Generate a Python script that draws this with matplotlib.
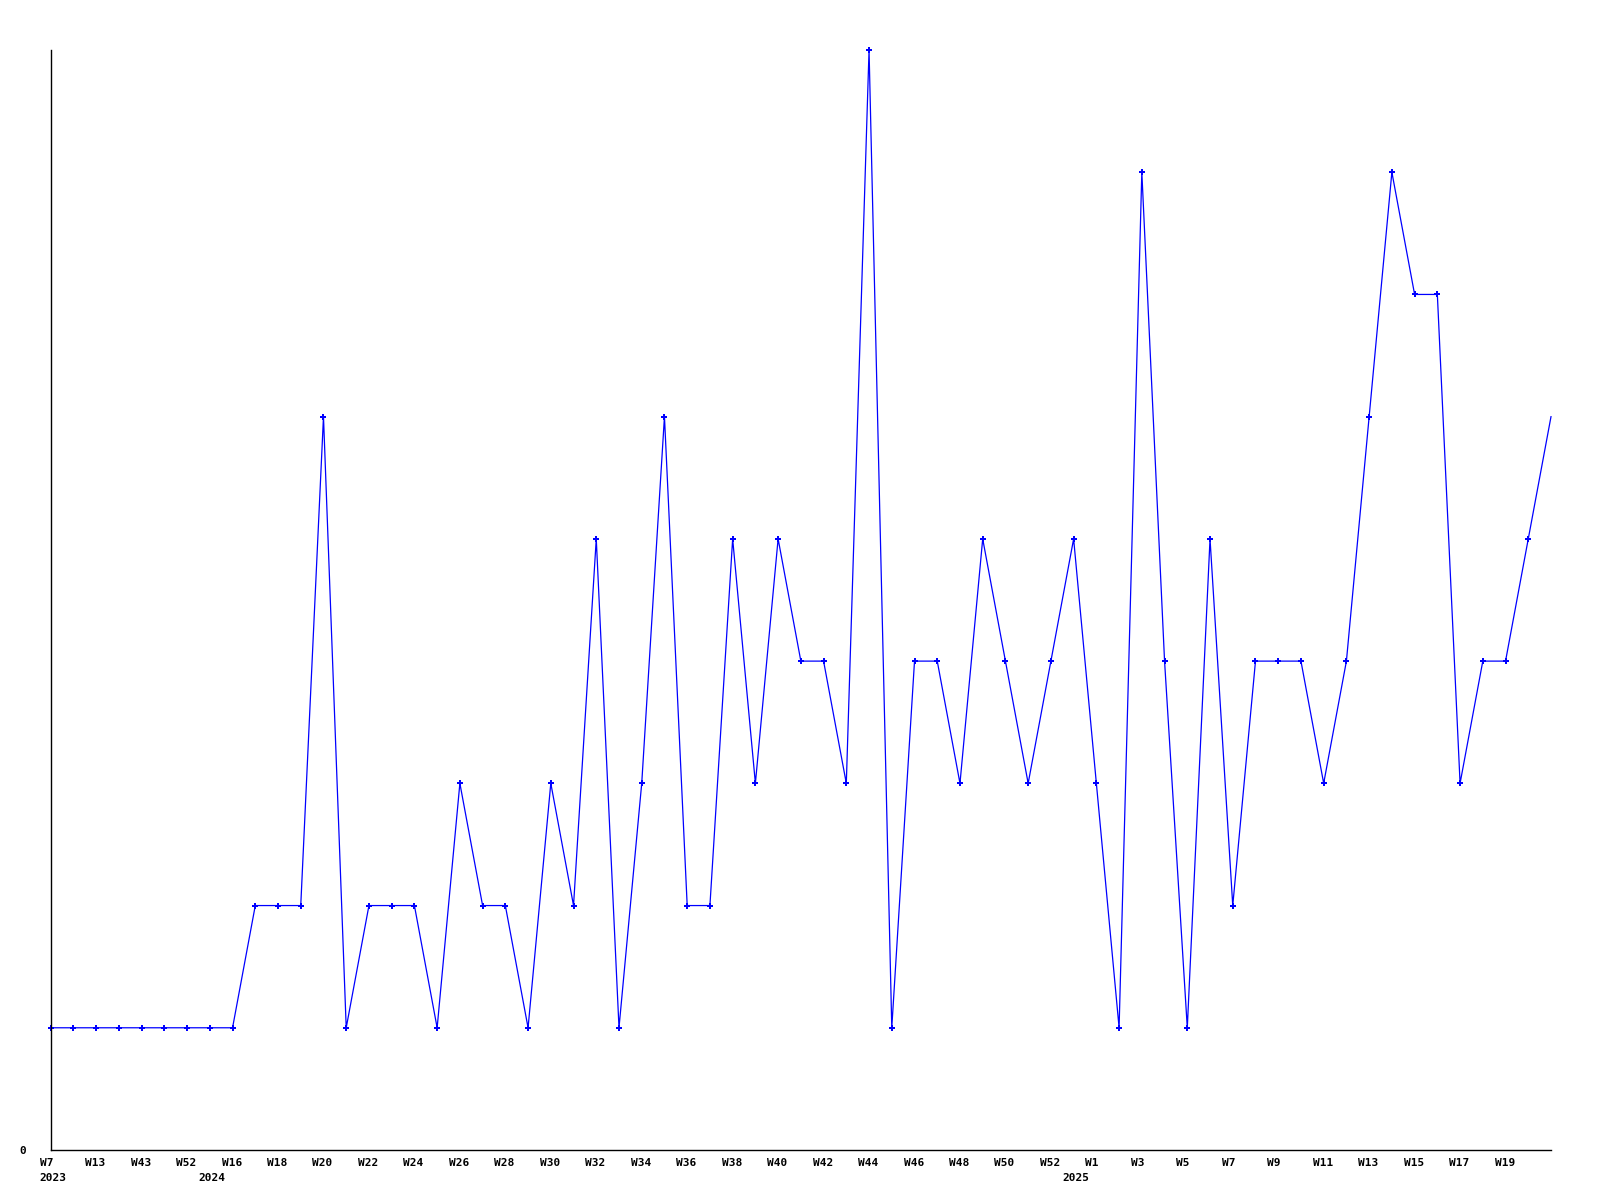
import matplotlib
matplotlib.use("Agg")
import matplotlib.pyplot as plt
from matplotlib.transforms import ScaledTranslation

# Data
years = [2023] * 7 + [2024] * 38 + [2025] * 22
weeks = [7, 10, 13, 30, 43, 48, 52, 8] + list(range(16, 53)) + [0] + list(range(1, 22))
values = [1, 1, 1, 1, 1, 1, 1, 1, 1, 2, 2, 2, 6, 1, 2, 2, 2, 1, 3, 2, 2, 1, 3, 2,
          5, 1, 3, 6, 2, 2, 5, 3, 5, 4, 4, 3, 9, 1, 4, 4, 3, 5, 4, 3, 4, 5, 3, 1,
          8, 4, 1, 5, 2, 4, 4, 4, 3, 4, 6, 8, 7, 7, 3, 4, 4, 5, 6]

x = list(range(len(values)))

fig = plt.figure(figsize=(16, 12), dpi=100)
ax = fig.add_axes([50.7 / 1600, 50 / 1200, (1551 - 50.7) / 1600, 1100 / 1200])

ax.plot(x, values, color="#0000ff", linewidth=0.9, marker="P", markersize=5,
        markeredgewidth=0, markevery=slice(0, len(values) - 1), clip_on=False)

ax.set_xlim(0, len(values) - 1)
ax.set_ylim(0, max(values))

for s in ["top", "right"]:
    ax.spines[s].set_visible(False)
for s in ["left", "bottom"]:
    ax.spines[s].set_linewidth(1.0)
    ax.spines[s].set_color("black")

ax.set_xticks([])
font = dict(fontfamily="DejaVu Sans Mono", fontweight="bold", fontsize=8)

# x labels: week on every other point (not the final one), year at first point of each year
base = ax.get_xaxis_transform()
off_w = ScaledTranslation(-11 / 100, -8 / 100, fig.dpi_scale_trans)
off_y = ScaledTranslation(-11 / 100, -23 / 100, fig.dpi_scale_trans)
for i in range(0, len(values) - 1, 2):
    ax.text(i, 0, f"W{weeks[i]}", transform=base + off_w, ha="left", va="top",
            clip_on=False, **font)
last_year = None
for i in range(len(values)):
    if years[i] != last_year:
        ax.text(i, 0, f"{years[i]}", transform=base + off_y, ha="left", va="top",
                clip_on=False, **font)
        last_year = years[i]

ax.set_yticks([0])
ax.set_yticklabels(["0"], **font)
ax.tick_params(axis="y", length=0, pad=18)

fig.savefig("out.png", dpi=100)
